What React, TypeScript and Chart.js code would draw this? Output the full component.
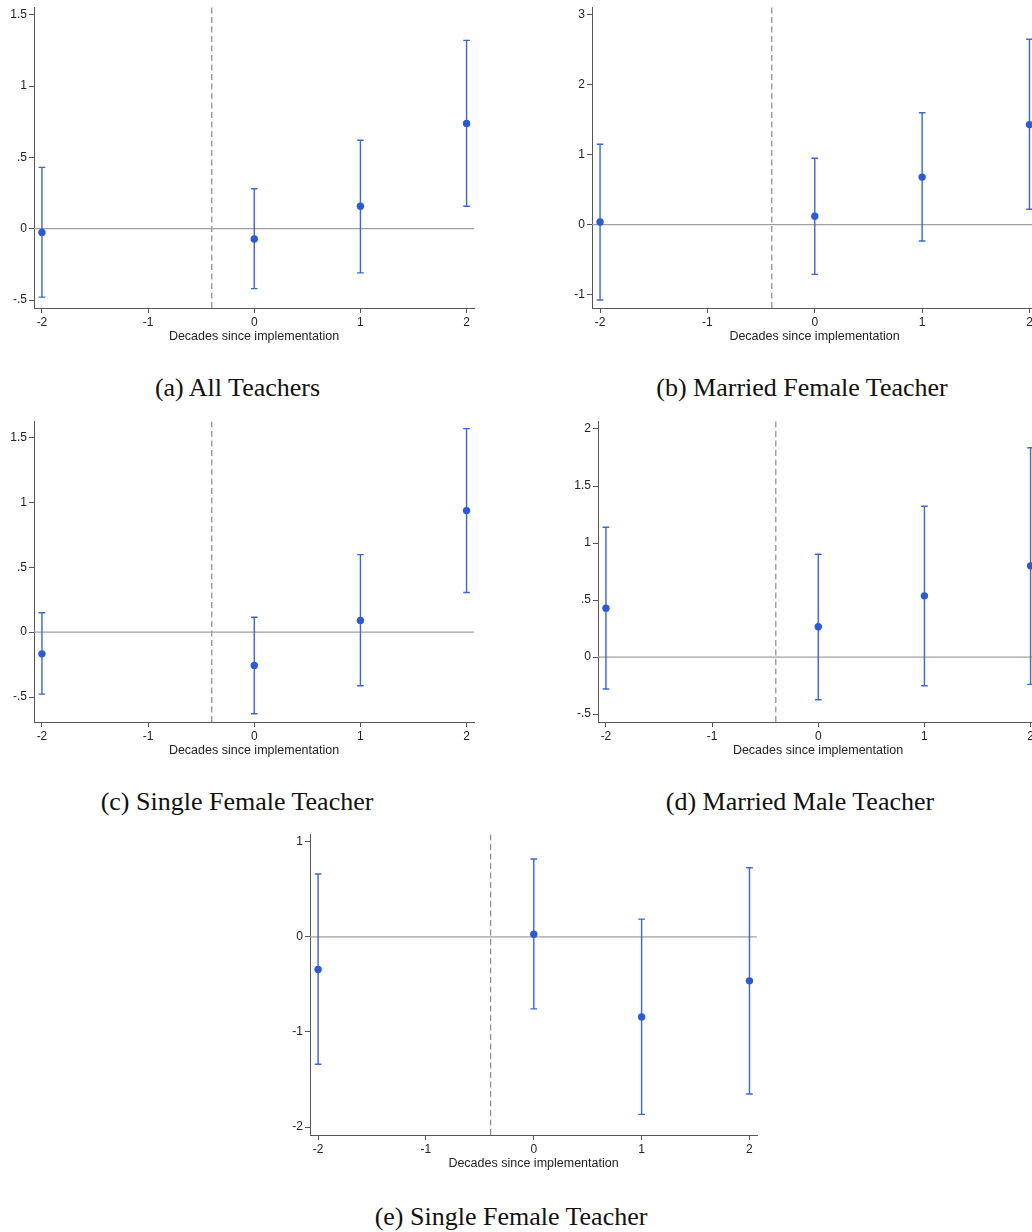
import React, { useEffect, useRef } from 'react';
import { Chart, registerables } from 'chart.js';

Chart.register(...registerables);

// ---------- data ----------
const periods = [-2, 0, 1, 2];
const xTicks = [-2, -1, 0, 1, 2];
const xLabel = 'Decades since implementation';
const eventLine = -0.4;
const xMin = -2.075;
const xMax = 2.07;

// (a) All Teachers
const estA = [-0.026, -0.072, 0.157, 0.738];
const loA = [-0.48, -0.42, -0.31, 0.157];
const hiA = [0.43, 0.28, 0.62, 1.32];
const yTicksA = [-0.5, 0, 0.5, 1, 1.5];

// (b) Married Female Teacher
const estB = [0.038, 0.12, 0.68, 1.43];
const loB = [-1.076, -0.71, -0.233, 0.22];
const hiB = [1.15, 0.95, 1.6, 2.65];
const yTicksB = [-1, 0, 1, 2, 3];

// (c) Single Female Teacher
const estC = [-0.167, -0.256, 0.09, 0.936];
const loC = [-0.477, -0.628, -0.413, 0.305];
const hiC = [0.149, 0.115, 0.597, 1.567];
const yTicksC = [-0.5, 0, 0.5, 1, 1.5];

// (d) Married Male Teacher
const estD = [0.429, 0.266, 0.537, 0.8];
const loD = [-0.28, -0.374, -0.251, -0.239];
const hiD = [1.139, 0.902, 1.323, 1.836];
const yTicksD = [-0.5, 0, 0.5, 1, 1.5, 2];

// (e) Single Female Teacher
const estE = [-0.344, 0.028, -0.842, -0.463];
const loE = [-1.34, -0.758, -1.867, -1.653];
const hiE = [0.66, 0.818, 0.186, 0.726];
const yTicksE = [-2, -1, 0, 1];

const captions = [
  '(a) All Teachers',
  '(b) Married Female Teacher',
  '(c) Single Female Teacher',
  '(d) Married Male Teacher',
  '(e) Single Female Teacher',
];

// ---------- layout ----------
const layouts = [
  { l: 34, r: 474, t: 7, b: 308, yMin: -0.556, yMax: 1.554, capX: 237.5, capY: 388 },
  { l: 592, r: 1037, t: 7, b: 308, yMin: -1.19, yMax: 3.11, capX: 802, capY: 388 },
  { l: 34, r: 474, t: 421, b: 722, yMin: -0.692, yMax: 1.626, capX: 237, capY: 802 },
  { l: 598, r: 1038, t: 421, b: 722, yMin: -0.569, yMax: 2.07, capX: 800, capY: 802 },
  { l: 310, r: 757, t: 834, b: 1135, yMin: -2.084, yMax: 1.081, capX: 511, capY: 1217 },
];

const panels = [
  { est: estA, lo: loA, hi: hiA, yTicks: yTicksA },
  { est: estB, lo: loB, hi: hiB, yTicks: yTicksB },
  { est: estC, lo: loC, hi: hiC, yTicks: yTicksC },
  { est: estD, lo: loD, hi: hiD, yTicks: yTicksD },
  { est: estE, lo: loE, hi: hiE, yTicks: yTicksE },
];

const Y_AXIS_W = 34;
const X_AXIS_H = 36;
const PAD_TOP = 10;
const PAD_RIGHT = 10;

const fmtStata = (v: number) => {
  if (v === 0) return '0';
  const s = String(Math.round(v * 1000) / 1000);
  return s.replace(/^(-?)0\./, '$1.');
};

function Panel({ idx }: { idx: number }) {
  const ref = useRef<HTMLCanvasElement>(null);
  const L = layouts[idx];
  const P = panels[idx];
  const canvasLeft = L.l - Y_AXIS_W;
  const canvasTop = L.t - PAD_TOP;
  const width = L.r - canvasLeft + PAD_RIGHT;
  const height = PAD_TOP + (L.b - L.t) + X_AXIS_H;

  useEffect(() => {
    if (!ref.current) return;
    const errorBars = {
      id: 'errorBars' + idx,
      beforeDatasetDraw(chart: any, args: any) {
        if (args.index !== 0) return;
        const ctx = chart.ctx;
        const xs = chart.scales.x;
        const ys = chart.scales.y;
        ctx.save();
        ctx.strokeStyle = '#3a66d8';
        ctx.lineWidth = 1.4;
        periods.forEach((p, i) => {
          const x = xs.getPixelForValue(p);
          const y1 = ys.getPixelForValue(P.lo[i]);
          const y2 = ys.getPixelForValue(P.hi[i]);
          ctx.beginPath();
          ctx.moveTo(x, y1);
          ctx.lineTo(x, y2);
          ctx.moveTo(x - 3.3, y1);
          ctx.lineTo(x + 3.3, y1);
          ctx.moveTo(x - 3.3, y2);
          ctx.lineTo(x + 3.3, y2);
          ctx.stroke();
        });
        ctx.restore();
      },
    };

    const tickFont = { family: "'Liberation Sans', Arial, sans-serif", size: 12 };
    const chart = new Chart(ref.current, {
      type: 'scatter',
      data: {
        datasets: [
          {
            type: 'scatter',
            data: periods.map((p, i) => ({ x: p, y: P.est[i] })),
            backgroundColor: '#2c5ad4',
            borderColor: '#2c5ad4',
            pointRadius: 3.7,
            borderWidth: 0,
          },
          {
            type: 'line',
            data: [
              { x: xMin, y: 0 },
              { x: xMax, y: 0 },
            ],
            borderColor: '#a0a0a0',
            borderWidth: 1.3,
            pointRadius: 0,
          },
          {
            type: 'line',
            data: [
              { x: eventLine, y: L.yMin },
              { x: eventLine, y: L.yMax },
            ],
            borderColor: '#8a8a8a',
            borderWidth: 1.2,
            borderDash: [6, 3.5],
            pointRadius: 0,
          },
        ],
      } as any,
      options: {
        responsive: false,
        animation: false,
        devicePixelRatio: 1,
        layout: { padding: { top: PAD_TOP, right: PAD_RIGHT, left: 0, bottom: 0 } },
        plugins: { legend: { display: false }, tooltip: { enabled: false } },
        scales: {
          x: {
            type: 'linear',
            min: xMin,
            max: xMax,
            afterBuildTicks: (s: any) => {
              s.ticks = xTicks.map((v) => ({ value: v }));
            },
            afterFit: (s: any) => {
              s.height = X_AXIS_H;
            },
            grid: { drawOnChartArea: false, drawTicks: true, tickLength: 5, color: '#555' },
            border: { display: true, color: '#555', width: 1 },
            ticks: {
              color: '#222',
              font: tickFont,
              padding: 2,
              maxRotation: 0,
              autoSkip: false,
              callback: (v: any) => fmtStata(Number(v)),
            },
            title: {
              display: true,
              text: xLabel,
              color: '#222',
              font: { family: "'Liberation Sans', Arial, sans-serif", size: 12.5 },
              padding: { top: 0, bottom: 0 },
            },
          },
          y: {
            type: 'linear',
            min: L.yMin,
            max: L.yMax,
            afterBuildTicks: (s: any) => {
              s.ticks = P.yTicks.map((v) => ({ value: v }));
            },
            afterFit: (s: any) => {
              s.width = Y_AXIS_W;
            },
            grid: { drawOnChartArea: false, drawTicks: true, tickLength: 5, color: '#555' },
            border: { display: true, color: '#555', width: 1 },
            ticks: {
              color: '#222',
              font: tickFont,
              padding: 2,
              autoSkip: false,
              callback: (v: any) => fmtStata(Number(v)),
            },
          },
        },
      } as any,
      plugins: [errorBars],
    });
    return () => chart.destroy();
  }, [idx]);

  return (
    <canvas
      ref={ref}
      width={width}
      height={height}
      style={{ position: 'absolute', left: canvasLeft, top: canvasTop, width, height }}
    />
  );
}

function Caption({ idx }: { idx: number }) {
  const L = layouts[idx];
  return (
    <div
      style={{
        position: 'absolute',
        left: L.capX - 300,
        top: L.capY - 16,
        width: 600,
        height: 32,
        lineHeight: '32px',
        textAlign: 'center',
        fontFamily: "'Liberation Serif', 'Times New Roman', serif",
        fontSize: 26,
        color: '#111',
        whiteSpace: 'nowrap',
      }}
    >
      {captions[idx]}
    </div>
  );
}

export default function App() {
  return (
    <div
      style={{
        position: 'absolute',
        left: 0,
        top: 0,
        width: 1032,
        height: 1232,
        overflow: 'hidden',
        background: '#fff',
      }}
    >
      {layouts.map((_, i) => (
        <Panel key={'p' + i} idx={i} />
      ))}
      {layouts.map((_, i) => (
        <Caption key={'c' + i} idx={i} />
      ))}
    </div>
  );
}
